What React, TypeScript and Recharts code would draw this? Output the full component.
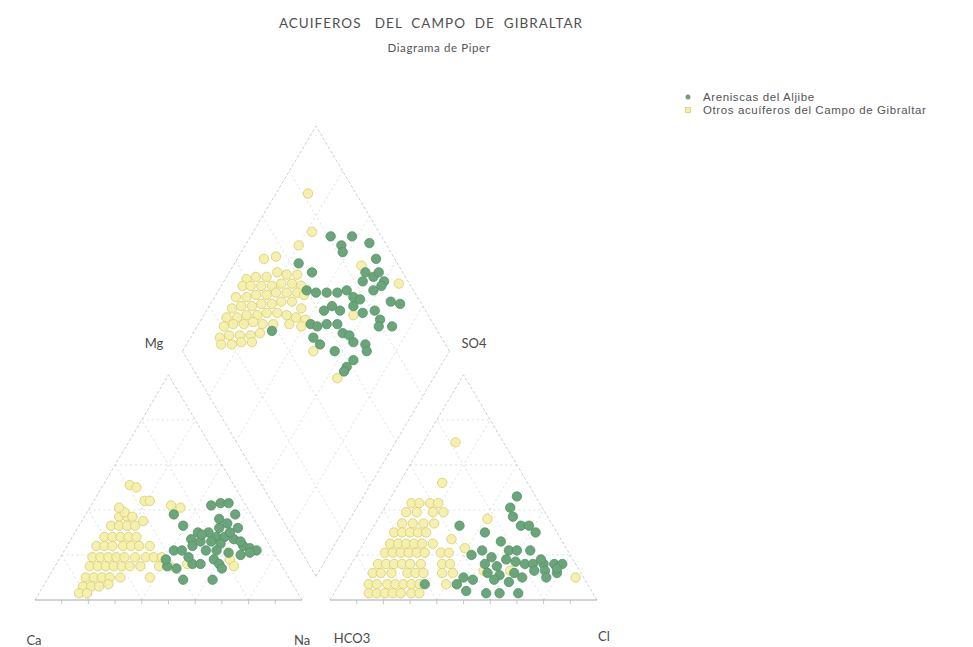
import React from 'react';
import { ScatterChart, Scatter, XAxis, YAxis, ReferenceLine } from 'recharts';

// Piper diagram geometry (triangle side = 100 units)
const GAP = 10.5;
const H = Math.sqrt(3) / 2;
const BX = 100 + GAP / 2;
const BY = (GAP / 2) * Math.sqrt(3);

const seriesNames = ['Areniscas del Aljibe', 'Otros acuíferos del Campo de Gibraltar'];
const title = 'ACUIFEROS   DEL  CAMPO  DE  GIBRALTAR';
const subtitle = 'Diagrama de Piper';

// cations: [Mg %, Na+K %]  (Ca = remainder)
const cationAljibe = [
  [42, 45], [43, 48], [43, 51], [38, 56], [38, 33], [33, 39], [36, 51], [34, 55], [32, 60],
  [30, 46], [30, 50], [28, 54], [28, 57], [27, 61], [27, 45], [26, 49], [26, 53], [25, 57],
  [24, 66], [23, 69], [22, 72], [22, 41], [22, 44], [22, 53], [22, 57], [21, 62], [20, 67],
  [15, 42], [14, 46], [16, 51], [16, 54], [18, 58], [16, 61], [14, 63], [9, 51], [9, 62],
  [21, 70], [24, 47], [29, 48], [30, 58], [32, 53], [18, 40], [19, 48], [26, 64],
];
const cationOtros = [
  [37, 13], [37, 16], [37, 18],
  [33, 12], [33, 15], [33, 18], [33, 21],
  [28, 12], [28, 15], [28, 18], [28, 21], [28, 24],
  [24, 11], [24, 14], [24, 17], [24, 21], [24, 24], [24, 27], [24, 31],
  [19, 12], [19, 15], [19, 18], [19, 21], [19, 24], [19, 28], [19, 32], [19, 35], [19, 38],
  [15, 13], [15, 16], [15, 19], [15, 22], [15, 25], [15, 28], [15, 32], [15, 39], [15, 43],
  [10, 14], [10, 17], [10, 20], [10, 23], [10, 27],
  [6, 15], [6, 18], [6, 21], [3, 15], [3, 18],
  [51, 10], [50, 13], [44, 19], [44, 21], [42, 30], [41, 34], [35, 23], [16, 49], [10, 38],
  [7, 24], [18, 64], [15, 67], [39, 14], [41, 11],
];

// anions: [SO4 %, Cl %]  (HCO3 = remainder)
const anionAljibe = [
  [46, 47], [41, 47], [37, 50], [33, 55], [33, 58], [30, 62], [33, 32], [30, 43], [26, 51],
  [22, 56], [22, 59], [22, 64], [20, 43], [22, 46], [19, 51], [16, 50], [15, 55], [18, 57],
  [17, 61], [16, 65], [16, 68], [16, 72], [16, 76], [16, 79], [13, 70], [13, 74], [12, 79],
  [12, 53], [11, 58], [12, 63], [10, 67], [10, 45], [9, 49], [7, 44], [4, 49], [3, 57],
  [3, 62], [3, 69], [7, 32], [10, 76], [14, 78], [18, 70], [9, 57], [8, 63],
];
const anionOtros = [
  [43, 9], [43, 12], [43, 16], [43, 19],
  [39, 9], [39, 13], [39, 19], [39, 23],
  [34, 10], [34, 14], [34, 18], [34, 22],
  [30, 9], [30, 12], [30, 15], [30, 18], [30, 21],
  [25, 10], [25, 13], [25, 16], [25, 19], [25, 22], [25, 26],
  [21, 10], [21, 13], [21, 16], [21, 19], [21, 22], [21, 25], [21, 31], [21, 34],
  [16, 10], [16, 13], [16, 16], [16, 19], [16, 22], [16, 26], [16, 34], [16, 37],
  [12, 10], [12, 13], [12, 17], [12, 23], [12, 26], [12, 29], [12, 36], [12, 40],
  [7, 11], [7, 14], [7, 18], [7, 21], [7, 24], [7, 27], [7, 30], [7, 40], [7, 44],
  [3, 13], [3, 16], [3, 19], [3, 22], [3, 25], [3, 29], [3, 32],
  [70, 12], [52, 16], [36, 41], [27, 32], [23, 39], [10, 87], [13, 51], [13, 61],
];

// diamond: [SO4+Cl %, Ca+Mg %]
const diamondAljibe = [
  [81, 70], [89, 62], [94, 54], [83, 64], [82, 62], [93, 48], [63, 76], [86, 49], [88, 45],
  [91, 40], [83, 48], [66, 69], [60, 67], [63, 63], [67, 59], [71, 55], [75, 52], [76, 48],
  [78, 45], [85, 42], [89, 40], [89, 33], [92, 29], [68, 50], [74, 46], [76, 41], [81, 37],
  [81, 33], [79, 32], [84, 27], [54, 58], [56, 55], [60, 52], [64, 48], [64, 44], [66, 41],
  [66, 38], [52, 54], [53, 50], [57, 43], [70, 33], [69, 31], [62, 34], [58, 35], [56, 35],
  [38, 71], [91, 44], [62, 56], [66, 54],
];
const diamondOtros = [
  [40, 92], [44, 89], [48, 85], [53, 82], [56, 78], [60, 74],
  [37, 92], [40, 89], [44, 85], [48, 81], [52, 78], [56, 74], [59, 70],
  [32, 92], [36, 88], [40, 85], [44, 81], [48, 78], [52, 74], [56, 70], [58, 67],
  [28, 91], [32, 88], [36, 84], [40, 81], [44, 77], [48, 74], [52, 70], [54, 65],
  [24, 91], [28, 87], [32, 84], [36, 80], [40, 77], [44, 73], [47, 69], [50, 65], [53, 61],
  [21, 90], [25, 87], [29, 83], [33, 80], [36, 76], [40, 72], [46, 66], [50, 61],
  [17, 89], [21, 86], [25, 82], [29, 78], [33, 75],
  [16, 87], [20, 83], [24, 80], [28, 76],
  [82, 88], [75, 78], [67, 80], [56, 86], [51, 90], [86, 52], [96, 34], [49, 51], [52, 36], [72, 44],
];

const cat = ([mg, na]: number[]) => ({ x: na + mg / 2, y: mg * H });
const ani = ([so4, cl]: number[]) => ({ x: 100 + GAP + cl + so4 / 2, y: so4 * H });
const dia = ([c, h]: number[]) => ({ x: BX + (c - h) / 2, y: BY + (c + h) * H });

const aljibe = [...cationAljibe.map(cat), ...anionAljibe.map(ani), ...diamondAljibe.map(dia)];
const otros = [...cationOtros.map(cat), ...anionOtros.map(ani), ...diamondOtros.map(dia)];

type P = { x: number; y: number };
const gridSegs: [P, P][] = [];
const edgeSegs: [P, P][] = [];
const baseSegs: [P, P][] = [];
const tickSegs: [P, P][] = [];
[0, 100 + GAP].forEach((ox) => {
  baseSegs.push([{ x: ox, y: 0 }, { x: ox + 100, y: 0 }]);
  edgeSegs.push([{ x: ox, y: 0 }, { x: ox + 50, y: 100 * H }]);
  edgeSegs.push([{ x: ox + 100, y: 0 }, { x: ox + 50, y: 100 * H }]);
  [20, 40, 60, 80].forEach((k) => {
    gridSegs.push([{ x: ox + k / 2, y: k * H }, { x: ox + 100 - k / 2, y: k * H }]);
    gridSegs.push([{ x: ox + k, y: 0 }, { x: ox + k + (100 - k) / 2, y: (100 - k) * H }]);
    gridSegs.push([{ x: ox + k, y: 0 }, { x: ox + k / 2, y: k * H }]);
  });
  [10, 20, 30, 40, 50, 60, 70, 80, 90].forEach((k) => {
    tickSegs.push([{ x: ox + k, y: 0 }, { x: ox + k, y: -1.6 }]);
  });
});
edgeSegs.push([dia([0, 0]), dia([100, 0])], [dia([0, 0]), dia([0, 100])]);
edgeSegs.push([dia([100, 0]), dia([100, 100])], [dia([0, 100]), dia([100, 100])]);
[20, 40, 60, 80].forEach((k) => {
  gridSegs.push([dia([k, 0]), dia([k, 100])]);
  gridSegs.push([dia([0, k]), dia([100, k])]);
});

const GREEN = '#6aa67a';
const GREEN_EDGE = '#55916a';
const YELLOW = '#f5f0ad';
const YELLOW_EDGE = '#d7cd70';

const Dot = (fill: string, stroke: string) => (p: any) => (
  <circle cx={p.cx} cy={p.cy} r={4.7} fill={fill} stroke={stroke} strokeWidth={0.8} />
);

const labelStyle: React.CSSProperties = {
  position: 'absolute',
  fontFamily: 'Lato, "Liberation Sans", sans-serif',
  fontSize: 13,
  color: '#4a4a4a',
  transform: 'translate(-50%, -50%)',
  whiteSpace: 'pre',
};

const vertexLabels = [
  { text: 'Mg', x: 154, y: 343 },
  { text: 'SO4', x: 474, y: 343 },
  { text: 'Ca', x: 34, y: 640 },
  { text: 'Na', x: 302, y: 640 },
  { text: 'HCO3', x: 352, y: 638 },
  { text: 'Cl', x: 604, y: 636 },
];

export default function App() {
  return (
    <div style={{ position: 'absolute', left: 0, top: 0, width: 973, height: 647, background: '#fff' }}>
      <ScatterChart width={973} height={647} margin={{ top: 126, right: 376, bottom: 47, left: 35 }}>
        <XAxis type="number" dataKey="x" domain={[0, 200 + GAP]} hide />
        <YAxis type="number" dataKey="y" domain={[0, BY + 200 * H]} hide />
        {gridSegs.map((s, i) => (
          <ReferenceLine key={`g${i}`} segment={s} stroke="#d3d7df" strokeWidth={0.8} strokeDasharray="2 3" ifOverflow="visible" />
        ))}
        {edgeSegs.map((s, i) => (
          <ReferenceLine key={`e${i}`} segment={s} stroke="#c4c8d0" strokeWidth={0.9} strokeDasharray="3 2" ifOverflow="visible" />
        ))}
        {baseSegs.map((s, i) => (
          <ReferenceLine key={`b${i}`} segment={s} stroke="#a3a8b0" strokeWidth={1} ifOverflow="visible" />
        ))}
        {tickSegs.map((s, i) => (
          <ReferenceLine key={`t${i}`} segment={s} stroke="#b5b9c0" strokeWidth={0.8} ifOverflow="visible" />
        ))}
        <Scatter name={seriesNames[1]} data={otros} shape={Dot(YELLOW, YELLOW_EDGE)} isAnimationActive={false} />
        <Scatter name={seriesNames[0]} data={aljibe} shape={Dot(GREEN, GREEN_EDGE)} isAnimationActive={false} />
      </ScatterChart>

      <div style={{ ...labelStyle, left: 431, top: 23, fontSize: 13.5, letterSpacing: 1, color: '#505050' }}>{title}</div>
      <div style={{ ...labelStyle, left: 439, top: 47, fontSize: 11.5, letterSpacing: 0.6, color: '#555' }}>{subtitle}</div>

      {vertexLabels.map((l) => (
        <div key={l.text} style={{ ...labelStyle, left: l.x, top: l.y }}>{l.text}</div>
      ))}

      <div style={{ position: 'absolute', left: 684, top: 91, fontFamily: '"Liberation Sans", Arial, sans-serif', fontSize: 11.5, color: '#555', lineHeight: '12.5px', letterSpacing: 0.6 }}>
        {seriesNames.map((n, i) => (
          <div key={n} style={{ display: 'flex', alignItems: 'center', whiteSpace: 'nowrap' }}>
            <svg width={19} height={12}>
              {i === 0 ? (
                <circle cx={4} cy={6} r={2.2} fill={GREEN} stroke={GREEN_EDGE} strokeWidth={0.6} />
              ) : (
                <rect x={1.5} y={3.5} width={5} height={5} fill={YELLOW} stroke={YELLOW_EDGE} strokeWidth={0.8} />
              )}
            </svg>
            <span>{n}</span>
          </div>
        ))}
      </div>
    </div>
  );
}
